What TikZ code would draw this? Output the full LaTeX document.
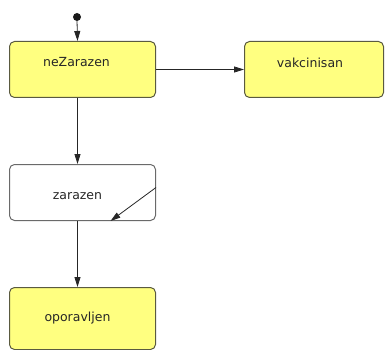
\documentclass[tikz,border=0pt]{standalone}
\usepackage{fontspec}
\setmainfont{DejaVu Sans}
\usetikzlibrary{arrows.meta}
\definecolor{stateyellow}{HTML}{FFFF80}
\definecolor{stateborder}{HTML}{5A5A40}
\definecolor{plainborder}{HTML}{6A6A6A}
\tikzset{
  x=1pt, y=1pt,
  statebox/.style={draw=stateborder, line width=1pt, fill=stateyellow,
    rounded corners=5pt, minimum width=146pt, minimum height=56pt,
    inner sep=0pt, anchor=north west},
  plainstate/.style={statebox, draw=plainborder, fill=white},
  caption/.style={font=\fontsize{12.5}{14}\selectfont, text=black!85},
  trans/.style={draw=black!85, line width=0.8pt,
    -{Triangle[length=10pt,width=6pt]}},
}
\begin{document}
\begin{tikzpicture}
\useasboundingbox (0,0) rectangle (385,-350);

% states
\node[statebox, label={[caption, xshift=-6pt, yshift=7pt]center:neZarazen}]
  (nez) at (9,-41) {};
\node[statebox, minimum width=139pt,
  label={[caption, xshift=-4pt, yshift=7pt]center:vakcinisan}]
  (vak) at (244,-41) {};
\node[plainstate, label={[caption, xshift=-5pt, yshift=-4pt]center:zarazen}]
  (zar) at (9,-164) {};
\node[statebox, minimum height=62pt,
  label={[caption, xshift=-5pt]center:oporavljen}]
  (opo) at (9,-287) {};

% initial pseudostate
\fill[black!90] (77,-17) circle (4pt);
\coordinate (init) at (77,-20);

% transitions
\draw[trans] (init) -- ([xshift=-5pt]nez.north);
\draw[trans] (nez.east) -- (vak.west);
\draw[trans] ([xshift=-5pt]nez.south) -- ([xshift=-5pt]zar.north);
\draw[trans] ([yshift=5pt]zar.east) -- ([xshift=28pt]zar.south);
\draw[trans] ([xshift=-5pt]zar.south) -- ([xshift=-5pt]opo.north);
\end{tikzpicture}
\end{document}
